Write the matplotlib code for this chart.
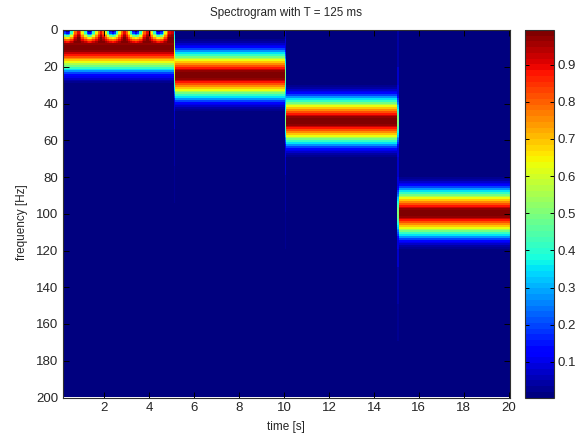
import numpy as np
import matplotlib
matplotlib.use("Agg")
import matplotlib.pyplot as plt

plt.rcParams['font.family'] = ['Liberation Sans', 'DejaVu Sans']
plt.rcParams['font.size'] = 8.5

# values
seg_edges = [5.07, 10.03, 15.06]
seg_centres = [10, 25, 50, 100]
x_ticks = [2, 4, 6, 8, 10, 12, 14, 16, 18, 20]
y_ticks = [0, 20, 40, 60, 80, 100, 120, 140, 160, 180, 200]
cbar_ticks = [0.1, 0.2, 0.3, 0.4, 0.5, 0.6, 0.7, 0.8, 0.9]

# level against distance from a band centre, one entry per Hz
band_profile = [1.0, 0.99, 0.97, 0.93, 0.88, 0.82, 0.76, 0.69, 0.63, 0.56, 0.49, 0.42, 0.35,
                0.27, 0.20, 0.14, 0.10, 0.07, 0.045, 0.03, 0.018, 0.01]
# faint streak in the column where two bands meet, one entry per 10 Hz of distance
streak_profile = [0.10, 0.09, 0.07, 0.05, 0.04, 0.03, 0.02, 0.01]

# dips at the top of the first band
dip_times = [0.31, 1.32, 2.34, 3.37, 4.39]
dip_step = 0.1
# rows are 0..7 Hz, columns step away from the dip centre
dip_levels = [
    [0.00, 0.12, 0.36, 0.60, 0.77, 0.88, 0.92],
    [0.03, 0.14, 0.38, 0.62, 0.78, 0.89, 0.92],
    [0.12, 0.20, 0.42, 0.65, 0.80, 0.90, 0.93],
    [0.28, 0.33, 0.50, 0.69, 0.83, 0.92, 0.95],
    [0.46, 0.50, 0.61, 0.75, 0.87, 0.95, 0.97],
    [0.64, 0.67, 0.74, 0.83, 0.92, 0.98, 0.99],
    [0.78, 0.80, 0.85, 0.90, 0.96, 0.99, 1.00],
    [0.88, 0.89, 0.92, 0.95, 0.98, 1.00, 1.00],
]

t_lo, t_hi = 0.13, 20.06
step = 0.0625
times = np.arange(t_lo + step / 2, t_hi, step)
freqs = np.arange(0, 201)


def band(centre):
    d = np.abs(freqs - centre)
    out = np.zeros(len(freqs))
    near = d < len(band_profile)
    out[near] = np.array(band_profile)[d[near]]
    return out


def streak(c1, c2):
    out = np.zeros(len(freqs))
    for c in (c1, c2):
        idx = np.abs(freqs - c) // 10
        near = idx < len(streak_profile)
        out[near] = np.maximum(out[near], np.array(streak_profile)[idx[near]])
    return out


Z = np.zeros((len(freqs), len(times)))
for j, t in enumerate(times):
    seg = np.searchsorted(seg_edges, t)
    Z[:, j] = band(seg_centres[seg])
    if seg == 0:
        k = int(round(min(abs(t - d) for d in dip_times) / dip_step))
        k = min(k, len(dip_levels[0]) - 1)
        for r, row in enumerate(dip_levels):
            Z[r, j] = row[k]

# column sitting on each change of band
for i, edge in enumerate(seg_edges):
    j = int(np.argmin(np.abs(times - edge)))
    Z[:, j] = np.maximum(0.5 * (band(seg_centres[i]) + band(seg_centres[i + 1])),
                         streak(seg_centres[i], seg_centres[i + 1]))

fig = plt.figure(figsize=(5.81, 4.38), dpi=100)
W, H = 581.0, 438.0
ax = fig.add_axes([62.5 / W, 1 - 397.5 / H, 447.5 / W, 367.5 / H])
cmap = plt.get_cmap('jet', 64)
im = ax.imshow(Z, aspect='auto', cmap=cmap, vmin=0.004, vmax=0.993, interpolation='nearest',
               extent=[t_lo, t_hi, 200.5, -0.5])
ax.set_xlim(t_lo, t_hi)
ax.set_ylim(200, 0)
ax.set_xticks(x_ticks)
ax.set_yticks(y_ticks)
ax.tick_params(direction='in', top=True, right=True, length=4, width=0.7, pad=3,
               color='black', labelcolor='#262626', labelsize=9.5)
ax.set_title('Spectrogram with T = 125 ms', fontsize=8.4, color='#262626', pad=10)
ax.set_xlabel('time [s]', color='#262626', labelpad=5)
ax.set_ylabel('frequency [Hz]', color='#262626')
ax.yaxis.set_label_coords(-0.077, 0.478)
for s in ax.spines.values():
    s.set_linewidth(0.8)
    s.set_color('#303030')

cax = fig.add_axes([525 / W, 1 - 397.5 / H, 28.5 / W, 367.5 / H])
cb = fig.colorbar(im, cax=cax, ticks=cbar_ticks)
cb.ax.set_yticklabels([str(v) for v in cbar_ticks])
cax.tick_params(direction='in', left=True, right=True, length=3, width=0.7, pad=3,
                color='black', labelcolor='#262626', labelsize=9.5)
cb.outline.set_linewidth(0.8)
cb.outline.set_edgecolor('#303030')

fig.savefig('out.png', dpi=100)
